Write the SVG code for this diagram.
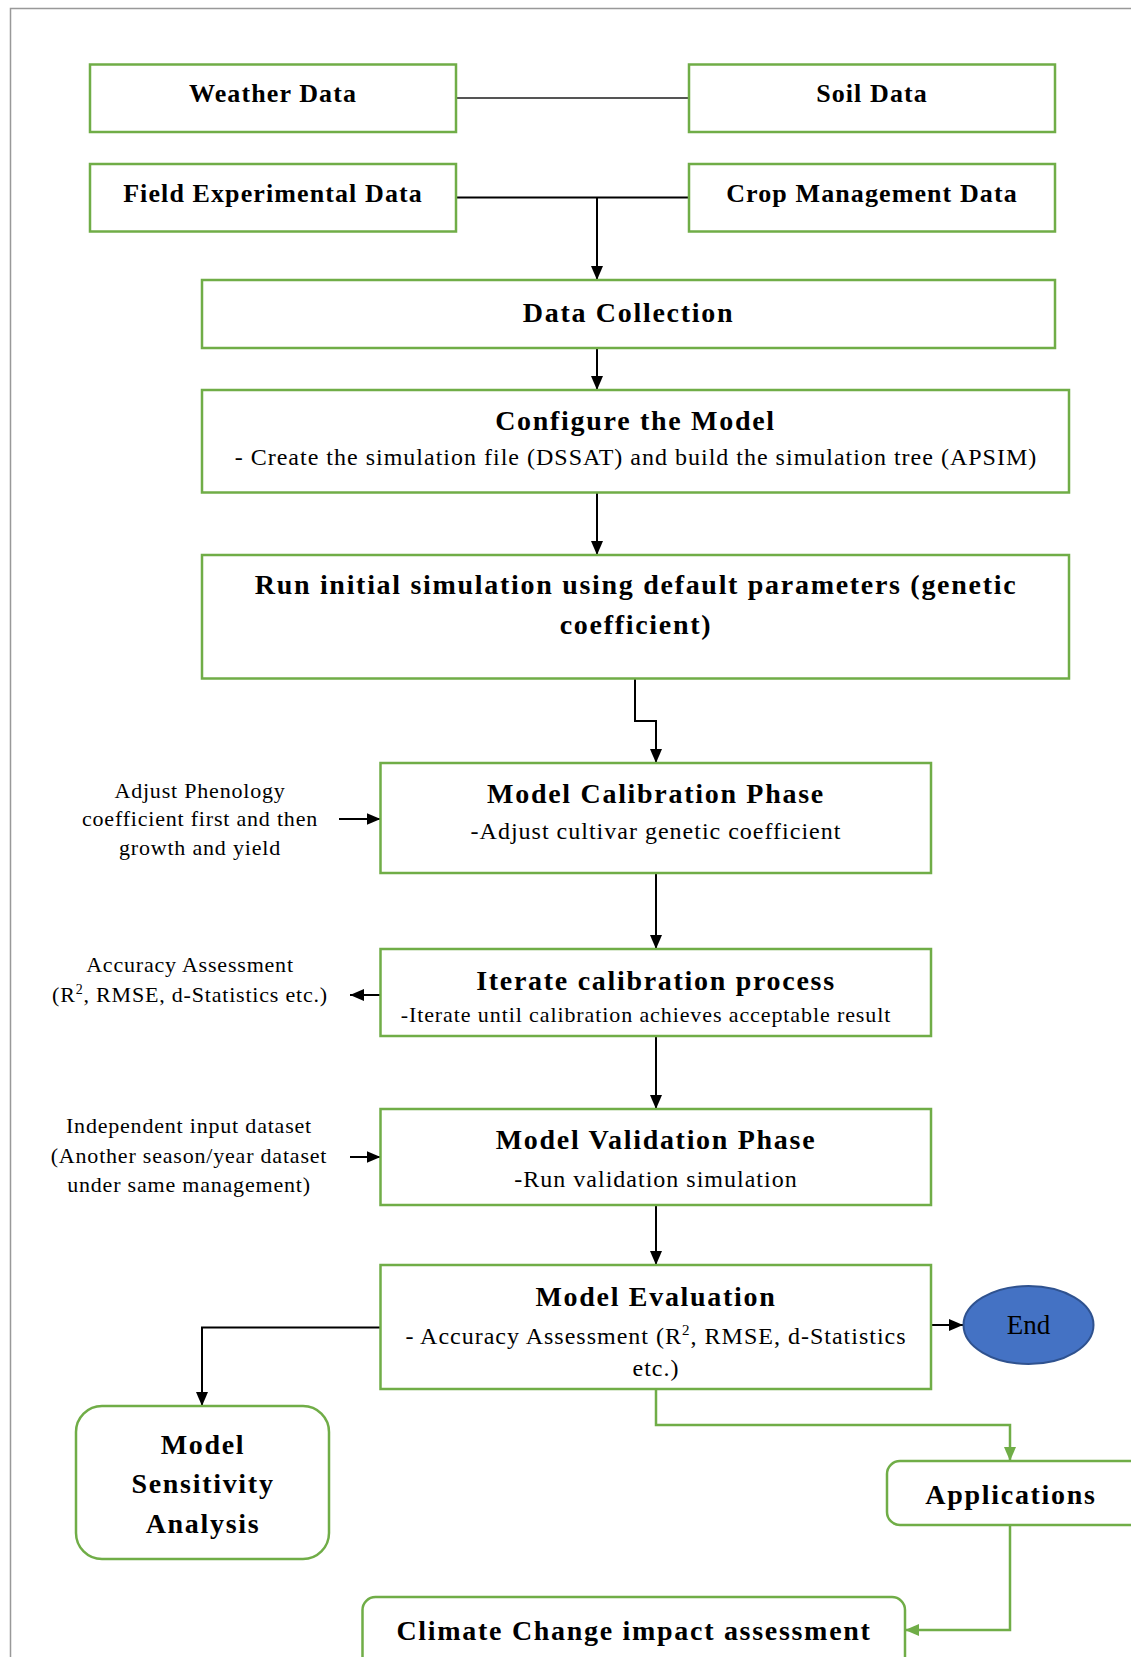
<svg xmlns="http://www.w3.org/2000/svg" width="1131" height="1657" viewBox="0 0 1131 1657">
<defs>
<style>
.box{fill:#fff;stroke:#70AD47;stroke-width:2.5}
.t{font-family:"Liberation Serif","Times New Roman",serif;font-weight:bold;font-size:28px;letter-spacing:1.7px;fill:#000;text-anchor:middle}
.t26{font-family:"Liberation Serif","Times New Roman",serif;font-weight:bold;font-size:26px;letter-spacing:1.1px;fill:#000;text-anchor:middle}
.s{font-family:"Liberation Serif","Times New Roman",serif;font-size:24px;letter-spacing:1px;fill:#000;text-anchor:middle}
.s22{font-family:"Liberation Serif","Times New Roman",serif;font-size:22px;letter-spacing:0.9px;fill:#000;text-anchor:middle}
.side{font-family:"Liberation Serif","Times New Roman",serif;font-size:22px;letter-spacing:0.8px;fill:#000;text-anchor:middle}
.c{fill:none;stroke:#000;stroke-width:2}
.g{fill:none;stroke:#70AD47;stroke-width:2.5}
</style>
<marker id="ah" markerUnits="userSpaceOnUse" markerWidth="16" markerHeight="14" refX="14" refY="6" orient="auto">
<path d="M0,0 L14,6 L0,12 Z" fill="#000"/>
</marker>
<marker id="ahg" markerUnits="userSpaceOnUse" markerWidth="16" markerHeight="14" refX="14" refY="6" orient="auto">
<path d="M0,0 L14,6 L0,12 Z" fill="#70AD47"/>
</marker>
</defs>
<rect x="0" y="0" width="1131" height="1657" fill="#fff"/>
<path d="M10.5,1657 V8.5 H1131" fill="none" stroke="#999" stroke-width="1.5"/>

<g id="connectors">
<line x1="456" y1="98" x2="689" y2="98" stroke="#555" stroke-width="2"/>
<line x1="456" y1="197.5" x2="689" y2="197.5" class="c" stroke-width="1.5"/>
<line x1="597" y1="197.5" x2="597" y2="280" class="c" marker-end="url(#ah)"/>
<line x1="597" y1="348" x2="597" y2="390" class="c" marker-end="url(#ah)"/>
<line x1="597" y1="492.5" x2="597" y2="555" class="c" marker-end="url(#ah)"/>
<path d="M635,678.5 V721 H656 V763" class="c" marker-end="url(#ah)"/>
<line x1="656" y1="873" x2="656" y2="949" class="c" marker-end="url(#ah)"/>
<line x1="656" y1="1036" x2="656" y2="1109" class="c" marker-end="url(#ah)"/>
<line x1="656" y1="1205" x2="656" y2="1265" class="c" marker-end="url(#ah)"/>
<path d="M380.5,1327.5 H202 V1406" class="c" marker-end="url(#ah)"/>
<line x1="931" y1="1325" x2="963" y2="1325" class="c" marker-end="url(#ah)"/>
<path d="M656,1389 V1425 H1010 V1461" class="g" marker-end="url(#ahg)"/>
<path d="M1010,1525 V1630 H905" class="g" marker-end="url(#ahg)"/>
<line x1="339" y1="819" x2="380.5" y2="819" class="c" marker-end="url(#ah)"/>
<line x1="380.5" y1="995" x2="350" y2="995" class="c" marker-end="url(#ah)"/>
<line x1="350" y1="1157" x2="380.5" y2="1157" class="c" marker-end="url(#ah)"/>
</g>

<g id="weather"><rect class="box" x="90" y="64.5" width="366" height="67.5"/><text class="t26" x="273" y="102">Weather Data</text></g>
<g id="soil"><rect class="box" x="689" y="64.5" width="366" height="67.5"/><text class="t26" x="872" y="102">Soil Data</text></g>
<g id="field"><rect class="box" x="90" y="164" width="366" height="67.5"/><text class="t26" x="273" y="202">Field Experimental Data</text></g>
<g id="crop"><rect class="box" x="689" y="164" width="366" height="67.5"/><text class="t26" x="872" y="202">Crop Management Data</text></g>
<g id="datacollection"><rect class="box" x="202" y="280" width="853" height="68"/><text class="t" x="628.5" y="321.5">Data Collection</text></g>
<g id="configure"><rect class="box" x="202" y="390" width="867" height="102.5"/><text class="t" x="635.5" y="430">Configure the Model</text><text class="s" x="636" y="465">- Create the simulation file (DSSAT) and build the simulation tree (APSIM)</text></g>
<g id="runinitial"><rect class="box" x="202" y="555" width="867" height="123.5"/><text class="t" x="636" y="594">Run initial simulation using default parameters (genetic</text><text class="t" x="636" y="634">coefficient)</text></g>
<g id="calibration"><rect class="box" x="380.5" y="763" width="550.5" height="110"/><text class="t" x="656" y="803">Model Calibration Phase</text><text class="s" x="656" y="839">-Adjust cultivar genetic coefficient</text></g>
<g id="iterate"><rect class="box" x="380.5" y="949" width="550.5" height="87"/><text class="t" x="656" y="990">Iterate calibration process</text><text class="s22" x="646" y="1022">-Iterate until calibration achieves acceptable result</text></g>
<g id="validation"><rect class="box" x="380.5" y="1109" width="550.5" height="96"/><text class="t" x="656" y="1148.5">Model Validation Phase</text><text class="s" x="656" y="1186.5">-Run validation simulation</text></g>
<g id="evaluation"><rect class="box" x="380.5" y="1265" width="550.5" height="124"/><text class="t" x="656" y="1306">Model Evaluation</text><text class="s" x="656" y="1344">- Accuracy Assessment (R<tspan dy="-9" font-size="15">2</tspan><tspan dy="9">, RMSE, d-Statistics</tspan></text><text class="s" x="656" y="1376">etc.)</text></g>
<g id="end"><ellipse cx="1028.5" cy="1325" rx="65" ry="39" fill="#4472C4" stroke="#2F528F" stroke-width="2"/><text x="1028.5" y="1334" font-family="'Liberation Serif','Times New Roman',serif" font-size="27" text-anchor="middle" fill="#000">End</text></g>
<g id="sensitivity"><rect class="box" x="76" y="1406" width="253" height="153" rx="26"/><text class="t" x="203" y="1454">Model</text><text class="t" x="203" y="1493">Sensitivity</text><text class="t" x="203" y="1533">Analysis</text></g>
<g id="applications"><rect class="box" x="887" y="1461" width="260" height="64" rx="13"/><text class="t" x="1011" y="1504">Applications</text></g>
<g id="climate"><rect class="box" x="362.5" y="1597" width="542.5" height="80" rx="13"/><text class="t" x="634" y="1640">Climate Change impact assessment</text></g>

<g id="note-phenology"><text class="side" x="200" y="798">Adjust Phenology</text><text class="side" x="200" y="826">coefficient first and then</text><text class="side" x="200" y="855">growth and yield</text></g>
<g id="note-accuracy"><text class="side" x="190" y="972">Accuracy Assessment</text><text class="side" x="190" y="1002">(R<tspan dy="-8" font-size="14">2</tspan><tspan dy="8">, RMSE, d-Statistics etc.)</tspan></text></g>
<g id="note-independent"><text class="side" x="189" y="1133">Independent input dataset</text><text class="side" x="189" y="1163">(Another season/year dataset</text><text class="side" x="189" y="1192">under same management)</text></g>
</svg>
